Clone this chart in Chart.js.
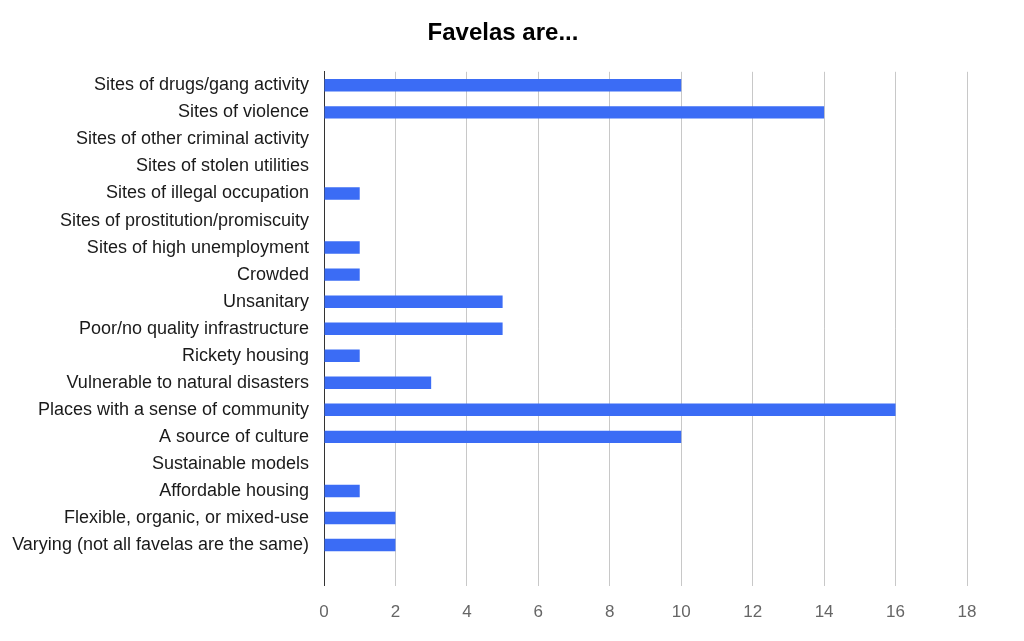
<!DOCTYPE html>
<html>
<head>
<meta charset="utf-8">
<script src="https://cdn.jsdelivr.net/npm/chart.js@4/dist/chart.umd.min.js"></script>
<style>
html,body{margin:0;padding:0;background:#fff;}
#wrap{width:1024px;height:641px;position:relative;}
</style>
</head>
<body>
<div id="wrap"><canvas id="c" width="1024" height="641"></canvas></div>
<script>
const categories = [
  "Sites of drugs/gang activity",
  "Sites of violence",
  "Sites of other criminal activity",
  "Sites of stolen utilities",
  "Sites of illegal occupation",
  "Sites of prostitution/promiscuity",
  "Sites of high unemployment",
  "Crowded",
  "Unsanitary",
  "Poor/no quality infrastructure",
  "Rickety housing",
  "Vulnerable to natural disasters",
  "Places with a sense of community",
  "A source of culture",
  "Sustainable models",
  "Affordable housing",
  "Flexible, organic, or mixed-use",
  "Varying (not all favelas are the same)"
];
const counts = [10, 14, 0, 0, 1, 0, 1, 1, 5, 5, 1, 3, 16, 10, 0, 1, 2, 2];
const xTicks = [0, 2, 4, 6, 8, 10, 12, 14, 16, 18];
const titleText = "Favelas are...";

// trailing blank row reproduces the empty space below the last bar
const labels = categories.concat([""]);
const data = counts.concat([null]);

const FONT = "'Liberation Sans', Arial, Helvetica, sans-serif";

new Chart(document.getElementById('c'), {
  type: 'bar',
  data: {
    labels: labels,
    datasets: [{
      data: data,
      backgroundColor: '#3b6cf5',
      borderWidth: 0,
      categoryPercentage: 1.0,
      barPercentage: 0.46
    }]
  },
  options: {
    indexAxis: 'y',
    responsive: false,
    animation: false,
    devicePixelRatio: 1,
    layout: { padding: { left: 0, right: 18, top: 0, bottom: 1 } },
    plugins: {
      legend: { display: false },
      tooltip: { enabled: false },
      title: {
        display: true,
        text: titleText,
        color: '#000',
        font: { family: FONT, size: 24, weight: 'bold' },
        padding: { top: 19, bottom: 24 }
      }
    },
    scales: {
      x: {
        min: 0,
        max: 18,
        afterBuildTicks: (axis) => { axis.ticks = xTicks.map(v => ({ value: v })); },
        afterFit: (axis) => { axis.paddingRight = 57; },
        ticks: {
          color: '#666',
          font: { family: FONT, size: 17 },
          padding: 17
        },
        grid: {
          drawTicks: false,
          color: (ctx) => (ctx.tick && ctx.tick.value === 0) ? '#333' : '#c8c8c8',
          lineWidth: 1
        },
        border: { display: false }
      },
      y: {
        afterFit: (axis) => { axis.width = 324; },
        ticks: {
          color: '#1a1a1a',
          font: { family: FONT, size: 18 },
          padding: 15,
          autoSkip: false
        },
        grid: { display: false, drawTicks: false },
        border: { display: true, color: '#333' }
      }
    }
  }
});
</script>
</body>
</html>
